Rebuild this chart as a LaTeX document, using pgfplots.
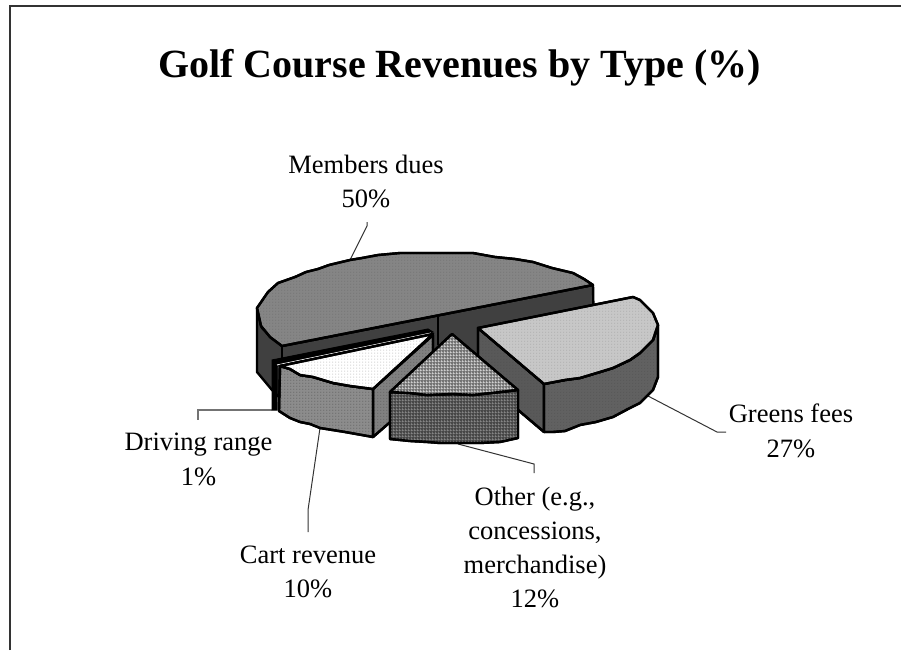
\documentclass[border=0pt]{standalone}
\usepackage{pgfplots}
\pgfplotsset{compat=1.18}
\usepackage{fontspec}
\setmainfont{Liberation Serif}
\usetikzlibrary{patterns}

% fine screen tones of the old printout
\pgfdeclarepatternformonly{finedots}{\pgfqpoint{-1pt}{-1pt}}{\pgfqpoint{2pt}{2pt}}{\pgfqpoint{3pt}{3pt}}{%
  \pgfpathcircle{\pgfqpoint{0pt}{0pt}}{0.65pt}\pgfusepath{fill}}
\pgfdeclarepatternformonly{finegrid}{\pgfqpoint{0pt}{0pt}}{\pgfqpoint{3pt}{3pt}}{\pgfqpoint{3pt}{3pt}}{%
  \pgfsetlinewidth{0.8pt}%
  \pgfpathmoveto{\pgfqpoint{0pt}{0.5pt}}\pgfpathlineto{\pgfqpoint{3pt}{0.5pt}}%
  \pgfpathmoveto{\pgfqpoint{0.5pt}{0pt}}\pgfpathlineto{\pgfqpoint{0.5pt}{3pt}}\pgfusepath{stroke}}

\tikzset{
  face/.style={draw=black,line width=2.4pt,line join=round},
  leader/.style={draw=black!80,line width=1pt},
  lbl/.style={font=\fontsize{26.5}{30}\selectfont,anchor=base,inner sep=0pt},
}

\begin{document}
\begin{tikzpicture}
\useasboundingbox (0,0) rectangle (901pt,650pt);
\begin{axis}[
    at={(0,0)},anchor=south west,
    scale only axis,width=901pt,height=650pt,
    xmin=0,xmax=901,ymin=0,ymax=650,y dir=reverse,
    hide axis,clip=false,
  ]
  % frame
  \addplot[draw=black!80,line width=2.4pt] coordinates {(9.7,650) (9.7,6.2) (901,6.2)};

  % leaders
  \addplot[leader] coordinates {(350,260) (367,226) (367,222)};
  \addplot[leader] coordinates {(648,396) (717,432) (726,432)};
  \addplot[leader] coordinates {(458,444) (534,464) (534,473)};
  \addplot[leader] coordinates {(320,428) (308,510) (308,532)};
  \addplot[draw=black!55,line width=1.5pt] coordinates {(272,410) (198,410) (198,420)};

  % members dues: walls
  \addplot[face,fill=black!75] coordinates {
    (257,308) (257,372) (272,390) (282,400) (470,400) (594,340) (593,285) (282,346) (262,328) (257,308)} --cycle;
  \addplot[draw=black,line width=1.5pt] coordinates {(282,346) (282,360)};
  \addplot[draw=black,line width=1.5pt] coordinates {(438,317) (438,345)};
  % members dues: top
  \addplot[face,fill=black!48,postaction={pattern=finedots,pattern color=black!60}] coordinates {
    (257,308) (268,292) (278,283) (295,277) (306,272) (318,269) (329,265) (350,260) (362,258)
    (378,255) (400,253) (430,253) (473,253) (495,257) (515,259) (533,262) (552,268)
    (573,273) (584,279) (593,285) (282,346) (270,337) (261,326) (257,308)} --cycle;

  % driving range
  \addplot[draw=black,fill=black,line width=1pt] coordinates {
    (272,360) (428,329) (433,332) (277,366) (277,410) (272,410) (272,360)} --cycle;
  \addplot[draw=white,line width=0.9pt] coordinates {(277,365) (431,333)};

  % cart revenue
  \addplot[face,fill=black!50,postaction={pattern=finedots,pattern color=black!70}] coordinates {
    (373,389) (433,335) (433,385) (373,437) (373,389)} --cycle;
  \addplot[face,fill=black!45,postaction={pattern=finedots,pattern color=black!70}] coordinates {
    (280,366) (279,411) (290,418) (300,422) (310,424) (320,428) (345,432) (373,437) (373,389)
    (350,386) (333,383) (313,377) (300,375) (290,369) (280,366)} --cycle;
  \addplot[face,fill=white,postaction={pattern=finedots,pattern color=black!30}] coordinates {
    (280,366) (433,334) (373,389) (350,386) (333,383) (313,377) (300,375) (290,369) (280,366)} --cycle;

  % greens fees
  \addplot[face,fill=black!65,postaction={pattern=finedots,pattern color=black!70}] coordinates {
    (478,328) (544,384) (544,432) (478,376) (478,328)} --cycle;
  \addplot[face,fill=black!62,postaction={pattern=finedots,pattern color=black!70}] coordinates {
    (544,384) (565,380) (580,378) (600,372) (613,368) (630,360) (640,353) (653,340) (658,325)
    (658,377) (653,390) (640,403) (628,409) (613,417) (596,422) (580,425) (565,431) (553,432) (544,432) (544,384)} --cycle;
  \addplot[face,fill=black!22,postaction={pattern=finedots,pattern color=black!40}] coordinates {
    (478,328) (633,297) (640,300) (653,313) (658,325) (653,340) (640,353) (630,360) (613,368)
    (600,372) (580,378) (565,380) (544,384) (478,328)} --cycle;

  % other
  \addplot[face,fill=black!72,postaction={pattern=finegrid,pattern color=black!45}] coordinates {
    (390,392) (390,439) (410,441) (427,442) (440,443) (460,443) (480,443) (500,442) (518,438) (518,390)
    (500,392) (473,395) (453,394) (427,395) (410,393) (390,392)} --cycle;
  \addplot[face,fill=black!55,postaction={pattern=finegrid,pattern color=white!85!black}] coordinates {
    (452,334) (518,390) (500,392) (473,395) (453,394) (427,395) (410,393) (390,392) (452,334)} --cycle;

  % text
  \node[font=\fontsize{40}{46}\selectfont\bfseries,anchor=base,inner sep=0pt] at (axis cs:459.5,78) {Golf Course Revenues by Type (\%)};
  \node[lbl] at (axis cs:366,173) {Members dues};
  \node[lbl] at (axis cs:366,207.5) {50\%};
  \node[lbl] at (axis cs:791,422) {Greens fees};
  \node[lbl] at (axis cs:791,457) {27\%};
  \node[lbl] at (axis cs:535,505) {Other (e.g.,};
  \node[lbl] at (axis cs:535,539) {concessions,};
  \node[lbl] at (axis cs:535,573) {merchandise)};
  \node[lbl] at (axis cs:535,607) {12\%};
  \node[lbl] at (axis cs:308,563) {Cart revenue};
  \node[lbl] at (axis cs:308,597) {10\%};
  \node[lbl] at (axis cs:198.5,450) {Driving range};
  \node[lbl] at (axis cs:198.5,485) {1\%};
\end{axis}
\end{tikzpicture}
\end{document}
